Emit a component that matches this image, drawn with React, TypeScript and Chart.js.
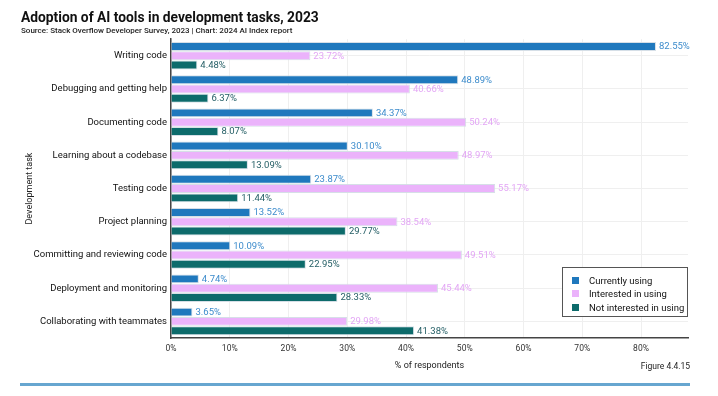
import React, { useEffect, useRef } from "react";
import { Chart, registerables } from "chart.js";

Chart.register(...registerables);

const categories = [
  "Writing code",
  "Debugging and getting help",
  "Documenting code",
  "Learning about a codebase",
  "Testing code",
  "Project planning",
  "Committing and reviewing code",
  "Deployment and monitoring",
  "Collaborating with teammates",
];
const currentlyUsing = [82.55, 48.89, 34.37, 30.1, 23.87, 13.52, 10.09, 4.74, 3.65];
const interestedInUsing = [23.72, 40.66, 50.24, 48.97, 55.17, 38.54, 49.51, 45.44, 29.98];
const notInterested = [4.48, 6.37, 8.07, 13.09, 11.44, 29.77, 22.95, 28.33, 41.38];
const seriesNames = ["Currently using", "Interested in using", "Not interested in using"];
const xTicks = [0, 10, 20, 30, 40, 50, 60, 70, 80];

const FONT = "Roboto, 'Liberation Sans', sans-serif";
const barColors = ["#1f78bd", "#ebb3fb", "#0d6b6b"];
const labelColors = ["#3d8ccc", "#e3a6f5", "#255f66"];

const valueLabels = {
  id: "valueLabels",
  afterDatasetsDraw(chart: any) {
    const ctx = chart.ctx;
    ctx.save();
    ctx.font = `9.5px ${FONT}`;
    ctx.textBaseline = "middle";
    ctx.textAlign = "left";
    chart.data.datasets.forEach((ds: any, di: number) => {
      const meta = chart.getDatasetMeta(di);
      meta.data.forEach((el: any, i: number) => {
        const v = ds.data[i];
        ctx.fillStyle = labelColors[di];
        ctx.fillText(v.toFixed(2) + "%", el.x + 3, el.y + 0.5);
      });
    });
    ctx.restore();
  },
};

export default function App() {
  const ref = useRef<HTMLCanvasElement>(null);
  useEffect(() => {
    document.body.style.margin = "0";
    const chart = new Chart(ref.current!, {
      type: "bar",
      data: {
        labels: categories,
        datasets: [currentlyUsing, interestedInUsing, notInterested].map((d, i) => ({
          label: seriesNames[i],
          data: d,
          backgroundColor: barColors[i],
          borderColor: "rgba(210,220,228,0.9)",
          borderWidth: 1,
          categoryPercentage: 0.84,
          barPercentage: 0.96,
        })),
      },
      options: {
        indexAxis: "y",
        responsive: false,
        animation: false,
        maintainAspectRatio: false,
        layout: { padding: { left: 21, right: 30, top: 0, bottom: 25 } },
        plugins: {
          legend: { display: false },
          tooltip: { enabled: false },
          title: {
            display: true,
            text: "Adoption of AI tools in development tasks, 2023",
            align: "start",
            color: "#111",
            font: { family: FONT, size: 13.8, weight: "bold" },
            padding: { top: 10, bottom: 0 },
          },
          subtitle: {
            display: true,
            text: "Source: Stack Overflow Developer Survey, 2023 | Chart: 2024 AI Index report",
            align: "start",
            color: "#222",
            font: { family: FONT, size: 8, weight: "500" },
            padding: { top: 0, bottom: 3 },
          },
        },
        scales: {
          x: {
            min: 0,
            max: 88,
            afterBuildTicks: (axis: any) => {
              axis.ticks = xTicks.map((v) => ({ value: v }));
            },
            ticks: {
              color: "#333",
              font: { family: FONT, size: 8.5 },
              padding: 6,
              callback: (v: any) => v + "%",
            },
            grid: { color: "#efefef", drawTicks: false },
            border: { color: "#444", width: 1.5 },
            title: {
              display: true,
              text: "% of respondents",
              color: "#222",
              font: { family: FONT, size: 9 },
              padding: { top: 0, bottom: 0 },
            },
          },
          y: {
            ticks: {
              color: "#111",
              font: { family: FONT, size: 9.5 },
              padding: 4,
            },
            grid: { color: "#efefef", drawTicks: false, offset: false },
            border: { color: "#444", width: 1.5 },
            afterFit: (scale: any) => {
              scale.width = 150;
            },
            title: {
              display: true,
              text: "Development task",
              color: "#222",
              font: { family: FONT, size: 9 },
              padding: { top: 3, bottom: 2 },
            },
          },
        },
      } as any,
      plugins: [valueLabels],
    });
    return () => chart.destroy();
  }, []);

  return (
    <div style={{ position: "relative", width: 718, height: 396, fontFamily: FONT }}>
      <canvas ref={ref} width={718} height={396} style={{ display: "block" }} />
      <div
        style={{
          position: "absolute",
          left: 562,
          top: 267,
          width: 124,
          height: 48,
          border: "1px solid #555",
          background: "#fff",
          fontSize: 9.5,
          color: "#111",
          boxSizing: "content-box",
        }}
      >
        {seriesNames.map((n, i) => (
          <div
            key={n}
            style={{ position: "absolute", left: 9, top: 6 + i * 13.5, height: 12, display: "flex", alignItems: "center" }}
          >
            <span style={{ display: "inline-block", width: 7, height: 7, background: barColors[i], marginRight: 10 }} />
            <span>{n}</span>
          </div>
        ))}
      </div>
      <div
        style={{
          position: "absolute",
          right: 28,
          top: 361,
          fontSize: 8.5,
          color: "#222",
        }}
      >
        Figure 4.4.15
      </div>
      <div
        style={{
          position: "absolute",
          left: 20,
          top: 383,
          width: 670,
          height: 2.5,
          background: "#67a6d0",
        }}
      />
    </div>
  );
}
